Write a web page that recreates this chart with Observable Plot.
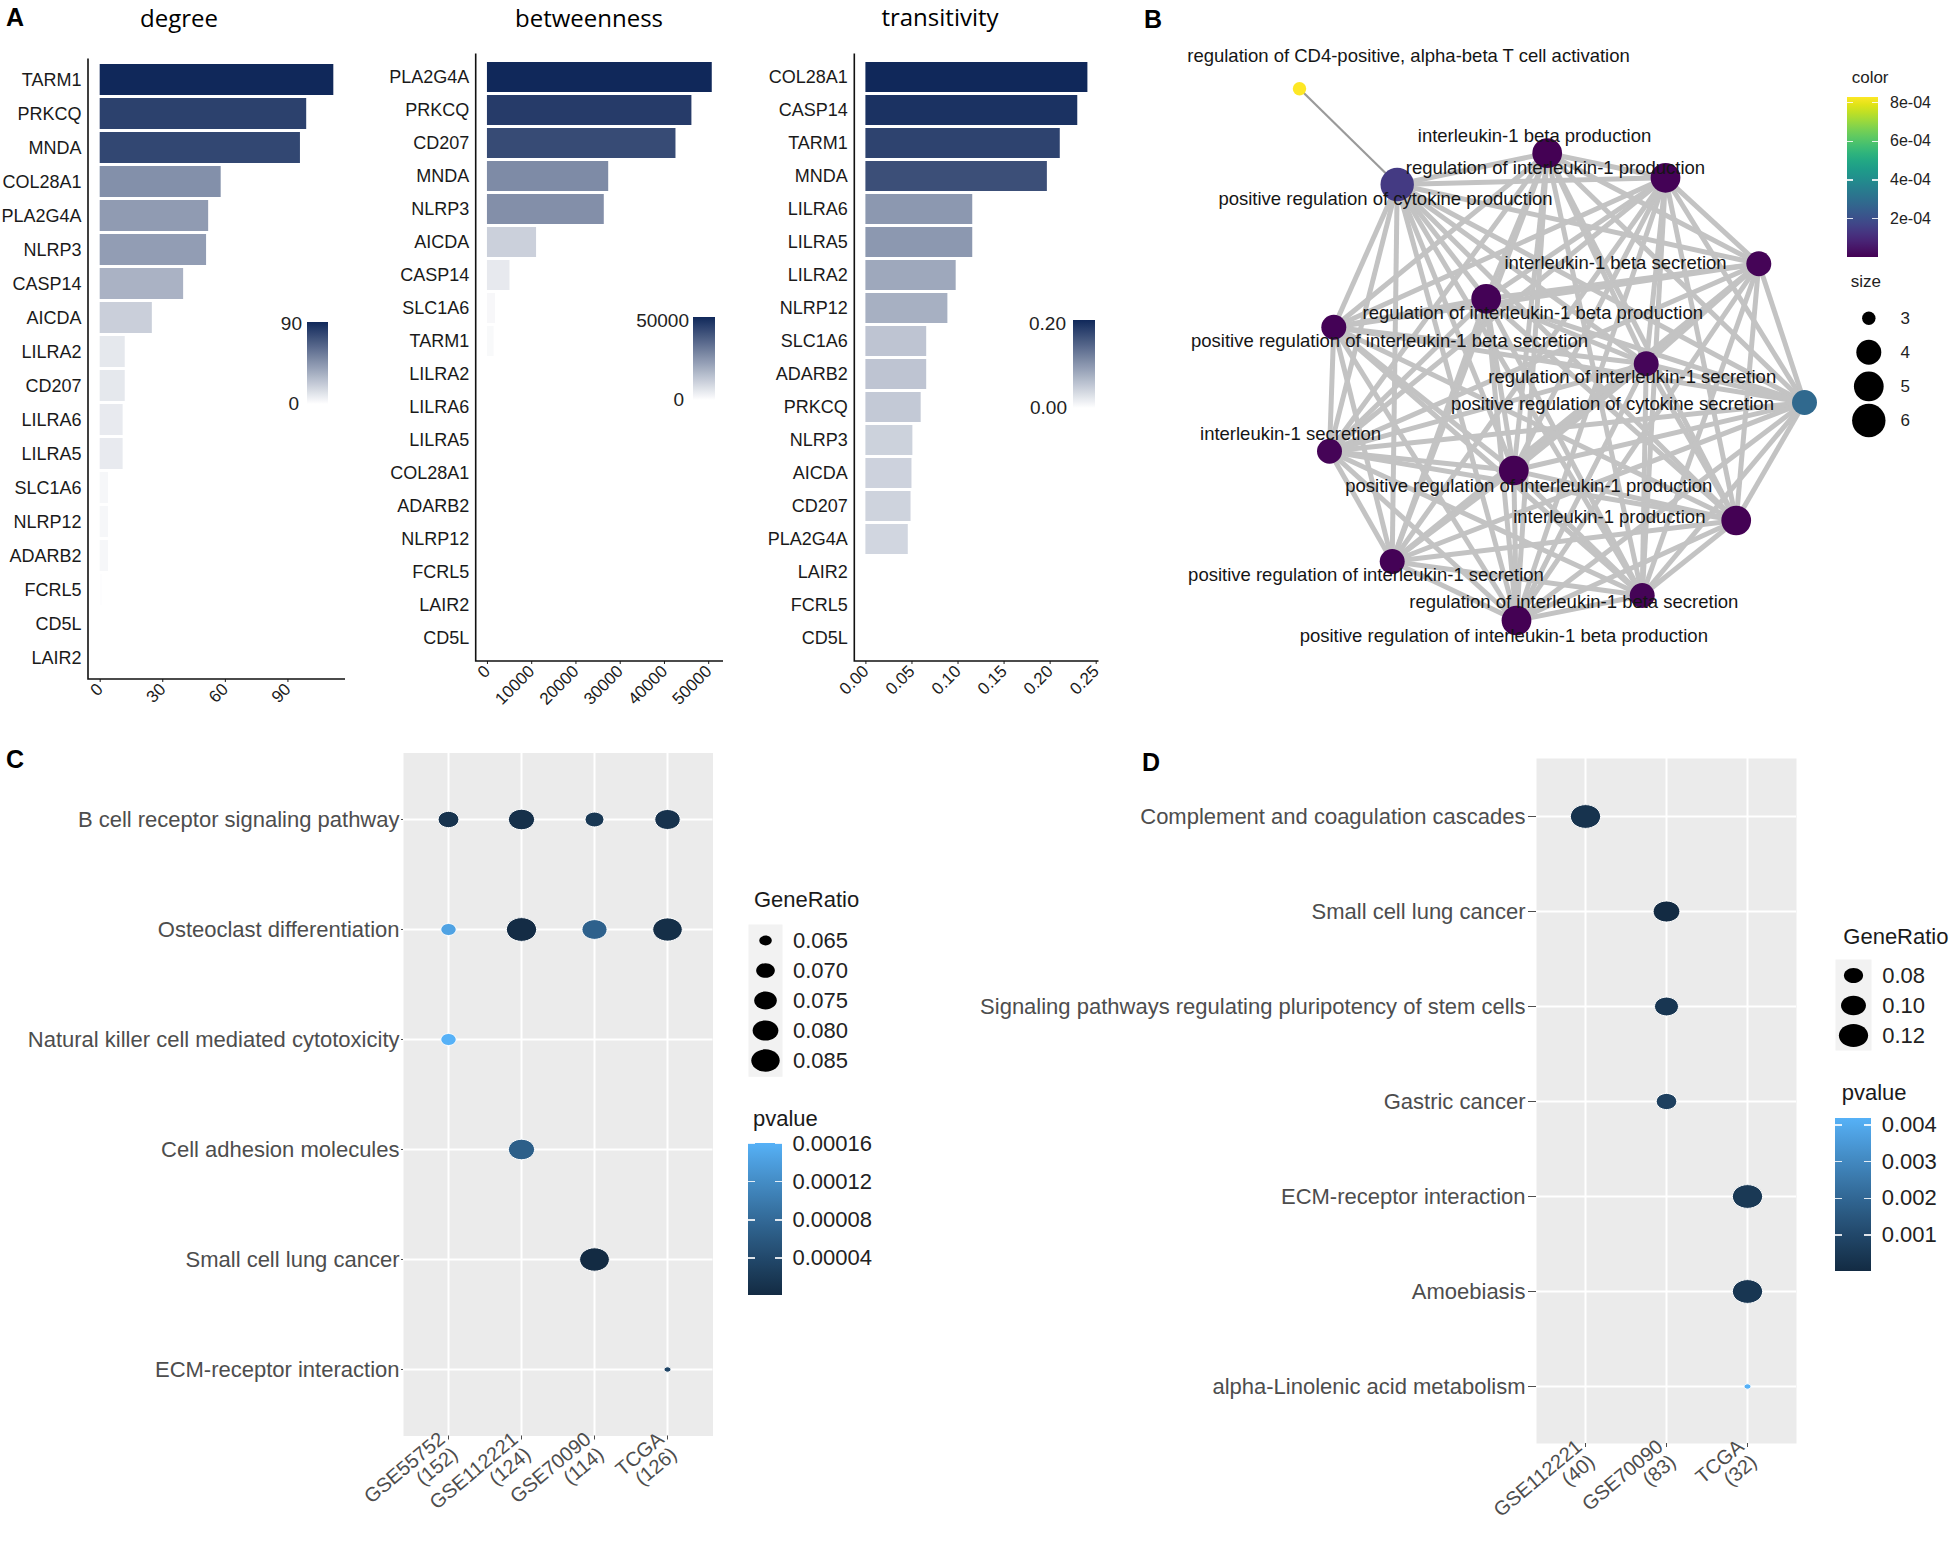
<!DOCTYPE html>
<html>
<head>
<meta charset="utf-8">
<script src="https://cdn.jsdelivr.net/npm/d3@7"></script>
<script src="https://cdn.jsdelivr.net/npm/@observablehq/plot@0.6"></script>
<style>
html,body{margin:0;padding:0;background:#fff;}
#root{position:relative;width:1955px;height:1543px;overflow:hidden;background:#fff;}
#root svg{overflow:visible;}
</style>
</head>
<body>
<div id="root"></div>
<script>
// ---------------- Panel A data ----------------
const degreeGenes = ["TARM1","PRKCQ","MNDA","COL28A1","PLA2G4A","NLRP3","CASP14","AICDA","LILRA2","CD207","LILRA6","LILRA5","SLC1A6","NLRP12","ADARB2","FCRL5","CD5L","LAIR2"];
const degreeValues = [112,99,96,58,52,51,40,25,12,12,11,11,4,4,4,1,0,0];
const degreeTicks = [0,30,60,90];
const degreeLegend = ["0","90"];

const betweennessGenes = ["PLA2G4A","PRKCQ","CD207","MNDA","NLRP3","AICDA","CASP14","SLC1A6","TARM1","LILRA2","LILRA6","LILRA5","COL28A1","ADARB2","NLRP12","FCRL5","LAIR2","CD5L"];
const betweennessValues = [50800,46200,42600,27400,26400,11100,5100,1800,1500,0,0,0,0,0,0,0,0,0];
const betweennessTicks = [0,10000,20000,30000,40000,50000];
const betweennessLegend = ["0","50000"];

const transitivityGenes = ["COL28A1","CASP14","TARM1","MNDA","LILRA6","LILRA5","LILRA2","NLRP12","SLC1A6","ADARB2","PRKCQ","NLRP3","AICDA","CD207","PLA2G4A","LAIR2","FCRL5","CD5L"];
const transitivityValues = [0.241,0.230,0.211,0.197,0.116,0.116,0.098,0.089,0.066,0.066,0.060,0.051,0.050,0.049,0.046,0,0,0];
const transitivityTicks = [0,0.05,0.10,0.15,0.20,0.25];
const transitivityLegend = ["0.00","0.20"];

// ---------------- Panel B data (network; layout coordinates in layout units) ----------------
const termNames = [
  "regulation of CD4-positive, alpha-beta T cell activation",
  "positive regulation of cytokine production",
  "interleukin-1 beta production",
  "regulation of interleukin-1 production",
  "interleukin-1 beta secretion",
  "regulation of interleukin-1 beta production",
  "positive regulation of interleukin-1 beta secretion",
  "regulation of interleukin-1 secretion",
  "positive regulation of cytokine secretion",
  "interleukin-1 secretion",
  "positive regulation of interleukin-1 production",
  "interleukin-1 production",
  "positive regulation of interleukin-1 secretion",
  "regulation of interleukin-1 beta secretion",
  "positive regulation of interleukin-1 beta production"
];
const termLayoutX = [1.39,2.367,3.867,5.05,5.983,3.257,1.733,4.857,6.44,1.69,3.533,5.757,2.317,4.817,3.56];
const termLayoutY = [0.583,1.54,1.227,1.473,2.333,2.683,2.967,3.333,3.72,4.207,4.40,4.90,5.31,5.65,5.90];
const termLabelX = [2.48,2.25,3.74,3.95,4.55,3.723,2.29,4.717,4.52,1.30,3.683,4.488,2.055,4.133,3.433];
const termLabelY = [0.26,1.683,1.057,1.373,2.327,2.827,3.107,3.467,3.733,4.033,4.56,4.867,5.45,5.717,6.06];
const termSize = [3,6,5,5,4,5,4,4,4,4,5,5,4,4,5];
const termPvalue = [8.28e-4,1.4e-4,3e-6,5e-6,8e-6,4e-6,6e-6,1e-5,2.8e-4,7e-6,2e-6,3e-6,5e-6,9e-6,1e-6];
const colorBreaksB = [2e-4,4e-4,6e-4,8e-4];
const sizeBreaksB = [3,4,5,6];

// ---------------- Panel C data ----------------
const cPathways = ["B cell receptor signaling pathway","Osteoclast differentiation","Natural killer cell mediated cytotoxicity","Cell adhesion molecules","Small cell lung cancer","ECM-receptor interaction"];
const cDatasets = ["GSE55752","GSE112221","GSE70090","TCGA"];
const cCounts = [152,124,114,126];
const cPathway = [0,0,0,0,1,1,1,1,2,3,4,5];
const cDataset = [0,1,2,3,0,1,2,3,0,1,2,3];
const cGeneRatio = [0.0724,0.0806,0.0702,0.0794,0.0668,0.0887,0.0789,0.0873,0.0668,0.0806,0.0877,0.0635];
const cPvalue = [1.2e-5,8e-6,1.8e-5,1.1e-5,1.45e-4,3e-6,7e-5,6e-6,1.61e-4,6.8e-5,1e-6,3.5e-5];
const cSizeBreaks = [0.065,0.070,0.075,0.080,0.085];
const cPBreaks = [0.00004,0.00008,0.00012,0.00016];

// ---------------- Panel D data ----------------
const dPathways = ["Complement and coagulation cascades","Small cell lung cancer","Signaling pathways regulating pluripotency of stem cells","Gastric cancer","ECM-receptor interaction","Amoebiasis","alpha-Linolenic acid metabolism"];
const dDatasets = ["GSE112221","GSE70090","TCGA"];
const dCounts = [40,83,32];
const dPathway = [0,1,2,3,4,5,6];
const dDataset = [0,1,1,1,2,2,2];
const dGeneRatio = [0.125,0.108,0.096,0.084,0.125,0.125,0.0625];
const dPvalue = [3e-4,2e-5,4e-4,7.5e-4,5e-4,4e-4,4.2e-3];
const dSizeBreaks = [0.08,0.10,0.12];
const dPBreaks = [0.001,0.002,0.003,0.004];

// ---------------- helpers ----------------
const FONT = '"Liberation Sans", Arial, Helvetica, sans-serif';
const NAVY = "#10285a";
const root = document.getElementById("root");
function put(el, x, y) {
  el.style.position = "absolute"; el.style.left = x + "px"; el.style.top = y + "px";
  root.appendChild(el); return el;
}
function txt(s, x, y, o = {}) {
  const d = document.createElement("div");
  d.textContent = s;
  const ax = o.anchor === "middle" ? -50 : o.anchor === "end" ? -100 : 0;
  Object.assign(d.style, {position: "absolute", left: x + "px", top: y + "px", fontFamily: o.family || FONT,
    fontSize: (o.size || 16) + "px", fontWeight: o.weight || "normal", color: o.color || "#111",
    lineHeight: "1.3", whiteSpace: "nowrap", transform: `translate(${ax}%, -50%)`});
  root.appendChild(d);
}
function colorbar(x, y, w, h, interp, ticks, o = {}) {
  const stops = d3.range(0, 1.0001, 0.05).map(t => `${interp(t)} ${(t * 100).toFixed(1)}%`).join(",");
  const bar = document.createElement("div");
  Object.assign(bar.style, {position: "absolute", left: x + "px", top: y + "px", width: w + "px", height: h + "px",
    background: `linear-gradient(to top, ${stops})`});
  root.appendChild(bar);
  for (const t of ticks) {
    const ty = y + h - t.f * h;
    if (o.tickMarks) {
      for (const tx of [x, x + w - w / 5]) {
        const tk = document.createElement("div");
        Object.assign(tk.style, {position: "absolute", left: tx + "px", top: (ty - 0.75) + "px", width: (w / 5) + "px", height: "1.5px", background: "rgba(255,255,255,0.85)"});
        root.appendChild(tk);
      }
    }
    txt(t.label, o.labelX, ty, {size: o.size || 18, anchor: o.anchor || "start", color: o.color || "#222"});
  }
}
// ellipse symbol (the original figure is slightly stretched horizontally)
const ellipse = {draw(ctx, size) {
  const r = Math.sqrt(size / Math.PI), rx = r * 1.12, ry = r * 0.88, k = 0.5523;
  ctx.moveTo(rx, 0);
  ctx.bezierCurveTo(rx, ry * k, rx * k, ry, 0, ry);
  ctx.bezierCurveTo(-rx * k, ry, -rx, ry * k, -rx, 0);
  ctx.bezierCurveTo(-rx, -ry * k, -rx * k, -ry, 0, -ry);
  ctx.bezierCurveTo(rx * k, -ry, rx, -ry * k, rx, 0);
  ctx.closePath();
}};
// left + bottom axis lines (classic theme) drawn from the plot's own frame dimensions
const axisLines = (index, scales, values, dims) => {
  const {width, height, marginLeft, marginTop, marginRight, marginBottom} = dims;
  const p = document.createElementNS("http://www.w3.org/2000/svg", "path");
  p.setAttribute("d", `M${marginLeft},${marginTop}V${height - marginBottom}H${width - marginRight}`);
  p.setAttribute("fill", "none");
  p.setAttribute("stroke", "#111");
  p.setAttribute("stroke-width", "1.6");
  return p;
};

// ---------------- Panel A ----------------
function barPanel({genes, values, ticks, fmt, left, width, mLeft, mRight, mTop, axisY, legend, leg}) {
  const max = d3.max(values);
  const data = genes.map((g, i) => ({gene: g, value: values[i]}));
  const height = 760;
  const svg = Plot.plot({
    width, height, marginLeft: mLeft, marginRight: mRight, marginTop: mTop, marginBottom: height - axisY,
    style: {fontFamily: FONT, color: "#1a1a1a", background: "transparent", overflow: "visible"},
    x: {domain: [-0.05 * max, 1.05 * max], axis: null},
    y: {domain: genes, axis: null, paddingInner: 0.1, paddingOuter: 0.15},
    color: {type: "linear", domain: [0, max], range: ["#ffffff", NAVY], interpolate: "rgb"},
    marks: [
      Plot.barX(data, {x: "value", y: "gene", fill: "value"}),
      Plot.axisX({ticks, tickFormat: fmt, tickRotate: -45, tickSize: 3, tickPadding: 4, fontSize: 17, label: null}),
      Plot.axisY({tickSize: 0, tickPadding: 7, fontSize: 18, label: null}),
      axisLines
    ]
  });
  put(svg, left, 0);
  const interp = d3.interpolateRgb("#ffffff", NAVY);
  colorbar(leg.x, leg.y, leg.w, leg.h, interp, [], {});
  txt(legend[1], leg.topX, leg.topY, {size: 19, anchor: "end", color: "#222"});
  txt(legend[0], leg.botX, leg.botY, {size: 19, anchor: "end", color: "#222"});
}
barPanel({genes: degreeGenes, values: degreeValues, ticks: degreeTicks, fmt: d3.format("d"),
  left: 0, width: 360, mLeft: 88, mRight: 15, mTop: 58.5, axisY: 679, legend: degreeLegend,
  leg: {x: 307, y: 322, w: 21, h: 82, topX: 302, topY: 324, botX: 299, botY: 404}});
barPanel({genes: betweennessGenes, values: betweennessValues, ticks: betweennessTicks, fmt: d3.format("d"),
  left: 380, width: 360, mLeft: 95.7, mRight: 17, mTop: 53.5, axisY: 661, legend: betweennessLegend,
  leg: {x: 693, y: 317, w: 22, h: 83, topX: 689, topY: 321, botX: 684, botY: 400}});
barPanel({genes: transitivityGenes, values: transitivityValues, ticks: transitivityTicks, fmt: d3.format(".2f"),
  left: 760, width: 360, mLeft: 94.3, mRight: 21.5, mTop: 53.5, axisY: 661, legend: transitivityLegend,
  leg: {x: 1073, y: 320, w: 22, h: 88, topX: 1066, topY: 324, botX: 1067, botY: 408}});
txt("degree", 179, 18, {size: 24, anchor: "middle", family: '"Open Sans", sans-serif', color: "#000"});
txt("betweenness", 589, 18, {size: 24, anchor: "middle", family: '"Open Sans", sans-serif', color: "#000"});
txt("transitivity", 940, 17, {size: 24, anchor: "middle", family: '"Open Sans", sans-serif', color: "#000"});

// ---------------- Panel B ----------------
const sizeTB = s => Math.sqrt((s - 3) / 3) + 0.001;
const nodes = termNames.map((name, i) => ({name, x: termLayoutX[i], y: termLayoutY[i], lx: termLabelX[i], ly: termLabelY[i], size: termSize[i], p: termPvalue[i]}));
const coreEdges = [];
for (let i = 1; i < nodes.length; i++) for (let j = i + 1; j < nodes.length; j++) coreEdges.push({a: nodes[i], b: nodes[j]});
const sideEdges = [{a: nodes[0], b: nodes[1]}];
const colorDomainB = [0, 8.28e-4];
const rRangeB = [6.7, 16.7];
const netSvg = Plot.plot({
  width: 690, height: 640, marginTop: 0, marginRight: 0, marginBottom: 0, marginLeft: 0,
  style: {fontFamily: FONT, background: "transparent", overflow: "visible"},
  x: {domain: [0, 6.9], range: [0, 690], axis: null},
  y: {domain: [0, 6.4], range: [0, 640], axis: null},
  color: {type: "linear", scheme: "viridis", domain: colorDomainB},
  r: {type: "linear", domain: [0, 1.001], range: rRangeB},
  marks: [
    Plot.link(coreEdges, {x1: d => d.a.x, y1: d => d.a.y, x2: d => d.b.x, y2: d => d.b.y, stroke: "#c3c3c3", strokeWidth: 5}),
    Plot.link(sideEdges, {x1: d => d.a.x, y1: d => d.a.y, x2: d => d.b.x, y2: d => d.b.y, stroke: "#9a9a9a", strokeWidth: 2.2}),
    Plot.dot(nodes, {x: "x", y: "y", r: d => sizeTB(d.size), fill: "p"}),
    Plot.text(nodes, {x: "lx", y: "ly", text: "name", fontSize: 18.5, fill: "#151515"})
  ]
});
put(netSvg, 1160, 30);
// B legends
txt("color", 1851.7, 78.3, {size: 17, color: "#222"});
const fmtE = v => v.toExponential(0).replace(/e-(\d)$/, "e-0$1");
colorbar(1846.7, 97.3, 31.6, 160, d3.interpolateViridis,
  colorBreaksB.map(v => ({f: (v - colorDomainB[0]) / (colorDomainB[1] - colorDomainB[0]), label: fmtE(v)})),
  {tickMarks: true, labelX: 1890, size: 16, color: "#222"});
txt("size", 1850.7, 281.7, {size: 17, color: "#222"});
const sizeLegB = Plot.plot({
  width: 100, height: 140, marginTop: 0, marginRight: 0, marginBottom: 0, marginLeft: 0,
  style: {fontFamily: FONT, background: "transparent", overflow: "visible"},
  y: {type: "linear", domain: [3, 6], range: [17.7, 120], axis: null},
  r: {type: "linear", domain: [0, 1.001], range: rRangeB},
  marks: [
    Plot.dot(sizeBreaksB, {y: d => d, r: d => sizeTB(d), fill: "black", frameAnchor: "left", dx: 28.3}),
    Plot.text(sizeBreaksB, {y: d => d, text: d => String(d), frameAnchor: "left", dx: 60, textAnchor: "start", fontSize: 17, fill: "#222"})
  ]
});
put(sizeLegB, 1840, 300);

// ---------------- Panels C & D ----------------
function dotPanel(cfg) {
  const {rows, cols, counts, pi, di, ratio, pval, left, top, width, height, mLeft, mRight, mTop, mBottom,
         lo, hi, rRange, pDomain, tickSizeY, tickPadY} = cfg;
  const t = v => Math.sqrt(Math.max(0, v - lo) / (hi - lo)) + 0.001;
  const data = ratio.map((r, i) => ({path: rows[pi[i]], set: cols[di[i]], ratio: r, p: pval[i]}));
  const svg = Plot.plot({
    width, height, marginLeft: mLeft, marginRight: mRight, marginTop: mTop, marginBottom: mBottom,
    style: {fontFamily: FONT, color: "#4d4d4d", background: "transparent", overflow: "visible"},
    x: {type: "point", domain: cols, padding: 0.6, axis: null},
    y: {type: "point", domain: rows, padding: 0.6, axis: null},
    r: {type: "linear", domain: [0, 1.001], range: rRange},
    color: {type: "linear", domain: pDomain, range: ["#132B43", "#56B1F7"], interpolate: "lab"},
    marks: [
      Plot.frame({fill: "#ebebeb", stroke: "none"}),
      Plot.gridX({stroke: "white", strokeOpacity: 1, strokeWidth: 2}),
      Plot.gridY({stroke: "white", strokeOpacity: 1, strokeWidth: 2}),
      Plot.dot(data, {x: "set", y: "path", r: d => t(d.ratio), fill: "p", stroke: "white", strokeWidth: 1, symbol: ellipse}),
      Plot.axisX({tickRotate: -40, tickSize: 4, tickPadding: 4, fontSize: 20, label: null,
        tickFormat: d => `${d}\n(${counts[cols.indexOf(d)]})`}),
      Plot.axisY({tickSize: tickSizeY, tickPadding: tickPadY, fontSize: 22, label: null})
    ]
  });
  put(svg, left, top);
  return t;
}
function sizeLegend({breaks, fmt, t, rRange, x, y, w, h, dx}) {
  const svg = Plot.plot({
    width: w + 100, height: h, marginLeft: 0, marginRight: 100, marginTop: 0, marginBottom: 0,
    style: {fontFamily: FONT, background: "transparent", overflow: "visible"},
    y: {type: "point", domain: breaks, padding: 0.5, axis: null},
    r: {type: "linear", domain: [0, 1.001], range: rRange},
    marks: [
      Plot.frame({fill: "#f2f2f2", stroke: "none"}),
      Plot.dot(breaks, {y: d => d, r: d => t(d), fill: "black", symbol: ellipse}),
      Plot.text(breaks, {y: d => d, text: fmt, frameAnchor: "left", dx, textAnchor: "start", fontSize: 22, fill: "#222"})
    ]
  });
  put(svg, x, y);
}

// Panel C
const cLo = d3.min(cGeneRatio), cHi = d3.max(cGeneRatio);
const cPDomain = [d3.min(cPvalue), d3.max(cPvalue)];
const cR = [3, 13.5];
const tC = dotPanel({rows: cPathways, cols: cDatasets, counts: cCounts, pi: cPathway, di: cDataset, ratio: cGeneRatio, pval: cPvalue,
  left: 0, top: 740, width: 740, height: 803, mLeft: 403, mRight: 27.5, mTop: 12.5, mBottom: 107.5,
  lo: cLo, hi: cHi, rRange: cR, pDomain: cPDomain, tickSizeY: 2, tickPadY: 2});
txt("GeneRatio", 754, 900, {size: 22, color: "#1a1a1a"});
sizeLegend({breaks: cSizeBreaks, fmt: d3.format(".3f"), t: tC, rRange: cR, x: 748, y: 923.7, w: 34, h: 152.3, dx: 44.5});
txt("pvalue", 753, 1119, {size: 22, color: "#1a1a1a"});
colorbar(748, 1142.6, 34, 152.4, d3.interpolateLab("#132B43", "#56B1F7"),
  cPBreaks.map(v => ({f: (v - cPDomain[0]) / (cPDomain[1] - cPDomain[0]), label: d3.format(".5f")(v)})),
  {tickMarks: true, labelX: 792.5, size: 22, color: "#222"});

// Panel D
const dLo = d3.min(dGeneRatio), dHi = d3.max(dGeneRatio);
const dPDomain = [d3.min(dPvalue), d3.max(dPvalue)];
const dR = [3, 13.5];
const tD = dotPanel({rows: dPathways, cols: dDatasets, counts: dCounts, pi: dPathway, di: dDataset, ratio: dGeneRatio, pval: dPvalue,
  left: 960, top: 740, width: 850, height: 803, mLeft: 576, mRight: 14, mTop: 18, mBottom: 100,
  lo: dLo, hi: dHi, rRange: dR, pDomain: dPDomain, tickSizeY: 8, tickPadY: 3});
txt("GeneRatio", 1843.3, 937.3, {size: 22, color: "#1a1a1a"});
sizeLegend({breaks: dSizeBreaks, fmt: d3.format(".2f"), t: tD, rRange: dR, x: 1835, y: 959, w: 36, h: 91, dx: 46.7});
txt("pvalue", 1841.7, 1093.3, {size: 22, color: "#1a1a1a"});
colorbar(1835, 1117.7, 36, 153.3, d3.interpolateLab("#132B43", "#56B1F7"),
  dPBreaks.map(v => ({f: (v - dPDomain[0]) / (dPDomain[1] - dPDomain[0]), label: d3.format(".3f")(v)})),
  {tickMarks: true, labelX: 1881.7, size: 22, color: "#222"});

// ---------------- panel letters ----------------
txt("A", 15, 17, {size: 25, weight: "bold", anchor: "middle", color: "#000"});
txt("B", 1153, 19, {size: 25, weight: "bold", anchor: "middle", color: "#000"});
txt("C", 15, 759, {size: 25, weight: "bold", anchor: "middle", color: "#000"});
txt("D", 1151, 762, {size: 25, weight: "bold", anchor: "middle", color: "#000"});
</script>
</body>
</html>
